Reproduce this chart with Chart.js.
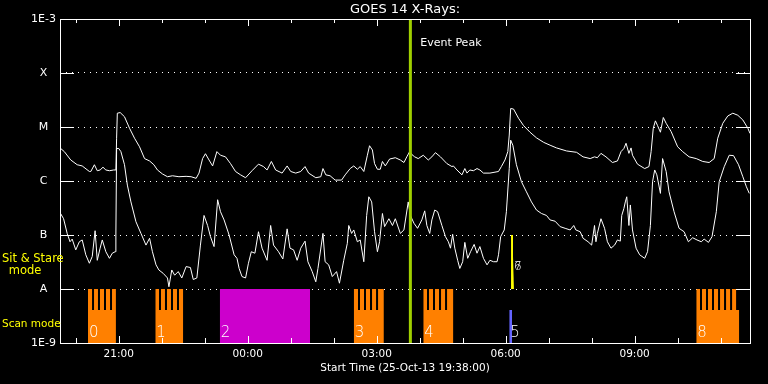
<!DOCTYPE html>
<html>
<head>
<meta charset="utf-8">
<script src="https://cdn.jsdelivr.net/npm/chart.js@4.4.0/dist/chart.umd.min.js"></script>
<style>
  html, body { margin: 0; padding: 0; background: #000; }
  canvas { display: block; }
</style>
</head>
<body>
<canvas id="myChart" width="768" height="384"></canvas>
<script>
// times are minutes after 25-Oct-13 19:38:00, flux in W/m^2
const longTimes = [0, 6, 15, 24, 31, 41, 43, 48, 52, 56, 60, 64, 69, 75, 78, 79, 80, 84, 90, 97, 104, 111, 118, 125, 131, 136, 143, 150, 157, 166, 176, 183, 190, 194, 199, 203, 208, 213, 219, 224, 231, 238, 245, 252, 259, 268, 277, 284, 289, 295, 301, 310, 317, 322, 329, 336, 342, 347, 357, 364, 367, 371, 377, 384, 393, 398, 405, 410, 415, 419, 424, 429, 432, 436, 439, 443, 447, 450, 454, 460, 468, 475, 480, 484, 488, 491, 495, 500, 507, 514, 519, 524, 531, 540, 547, 549, 554, 561, 565, 568, 572, 577, 582, 586, 591, 600, 612, 616, 621, 625, 627, 629, 633, 640, 647, 656, 665, 675, 684, 693, 707, 721, 730, 740, 746, 750, 755, 762, 771, 778, 783, 787, 790, 794, 797, 799, 806, 816, 822, 825, 828, 831, 834, 838, 842, 846, 853, 862, 869, 878, 888, 897, 906, 913, 918, 925, 932, 939, 946, 953, 960, 963];
const longFlux = [4.1e-6, 3.5e-6, 2.45e-6, 2.0e-6, 1.9e-6, 1.5e-6, 1.5e-6, 2.0e-6, 1.55e-6, 1.6e-6, 1.8e-6, 1.6e-6, 1.55e-6, 1.6e-6, 1.6e-6, 6.2e-6, 1.8e-5, 1.85e-5, 1.55e-5, 9.5e-6, 6.2e-6, 4.3e-6, 2.6e-6, 2.35e-6, 2.0e-6, 1.6e-6, 1.35e-6, 1.2e-6, 1.25e-6, 1.2e-6, 1.22e-6, 1.2e-6, 1.12e-6, 1.4e-6, 2.6e-6, 3.2e-6, 2.45e-6, 1.9e-6, 3.5e-6, 3.0e-6, 2.8e-6, 2.1e-6, 1.5e-6, 1.3e-6, 1.15e-6, 1.55e-6, 2.05e-6, 1.85e-6, 1.6e-6, 2.3e-6, 1.6e-6, 1.4e-6, 1.9e-6, 1.5e-6, 1.4e-6, 1.5e-6, 1.85e-6, 1.4e-6, 1.15e-6, 1.2e-6, 1.7e-6, 1.3e-6, 1.25e-6, 1.04e-6, 1.04e-6, 1.3e-6, 1.7e-6, 1.9e-6, 1.65e-6, 1.85e-6, 1.5e-6, 3.0e-6, 4.5e-6, 3.75e-6, 2.1e-6, 1.65e-6, 1.65e-6, 2.3e-6, 1.9e-6, 2.55e-6, 2.7e-6, 2.45e-6, 2.2e-6, 2.8e-6, 3.5e-6, 3.1e-6, 2.8e-6, 2.6e-6, 3.0e-6, 2.45e-6, 2.8e-6, 3.35e-6, 2.8e-6, 2.1e-6, 1.85e-6, 1.9e-6, 1.6e-6, 1.3e-6, 1.7e-6, 1.4e-6, 1.6e-6, 1.55e-6, 1.7e-6, 1.6e-6, 1.4e-6, 1.4e-6, 1.5e-6, 1.85e-6, 2.45e-6, 3.5e-6, 7.1e-6, 2.2e-5, 2.15e-5, 1.45e-5, 1.06e-5, 8.0e-6, 6.3e-6, 5.2e-6, 4.6e-6, 4.1e-6, 3.6e-6, 3.4e-6, 2.8e-6, 2.6e-6, 2.8e-6, 2.7e-6, 3.25e-6, 2.8e-6, 2.2e-6, 2.35e-6, 3.5e-6, 4.0e-6, 5.0e-6, 3.25e-6, 4.1e-6, 3.0e-6, 2.05e-6, 1.7e-6, 1.85e-6, 3.5e-6, 9.5e-6, 1.3e-5, 1.06e-5, 8.0e-6, 1.5e-5, 1.17e-5, 8.2e-6, 4.3e-6, 3.5e-6, 2.8e-6, 2.6e-6, 2.3e-6, 2.2e-6, 2.6e-6, 6.2e-6, 1.17e-5, 1.6e-5, 1.8e-5, 1.65e-5, 1.35e-5, 9.5e-6, 7.6e-6];

const shortTimes = [0, 5, 10, 14, 17, 22, 27, 31, 36, 41, 45, 49, 52, 56, 59, 64, 69, 73, 77, 78, 79, 82, 85, 90, 94, 99, 106, 113, 120, 125, 129, 134, 138, 144, 150, 152, 156, 160, 165, 170, 176, 182, 186, 191, 196, 201, 206, 210, 215, 220, 224, 229, 236, 243, 247, 250, 254, 259, 263, 267, 272, 277, 282, 289, 294, 298, 305, 311, 317, 321, 326, 331, 336, 342, 346, 352, 357, 360, 367, 370, 375, 380, 386, 390, 396, 401, 403, 407, 410, 415, 419, 424, 428, 431, 435, 439, 443, 446, 450, 453, 459, 464, 468, 475, 480, 486, 489, 494, 499, 505, 509, 512, 516, 519, 523, 527, 533, 538, 542, 545, 548, 551, 555, 558, 562, 565, 569, 573, 578, 582, 586, 591, 596, 600, 605, 610, 612, 615, 620, 623, 627, 629, 632, 637, 644, 651, 658, 665, 672, 679, 684, 691, 698, 705, 712, 717, 720, 726, 730, 737, 742, 746, 748, 750, 755, 760, 764, 769, 774, 778, 782, 784, 787, 789, 791, 794, 796, 799, 804, 809, 816, 820, 824, 827, 830, 833, 838, 841, 846, 850, 857, 864, 871, 877, 883, 889, 895, 899, 905, 910, 916, 920, 927, 934, 940, 947, 953, 958, 962];
const shortFlux = [2.6e-7, 2.0e-7, 1.07e-7, 7.5e-8, 8.4e-8, 5.3e-8, 7.5e-8, 8.1e-8, 4.3e-8, 3.0e-8, 4.0e-8, 1.2e-7, 3.4e-8, 5.7e-8, 8.1e-8, 4.9e-8, 3.7e-8, 4.6e-8, 4.9e-8, 1.0e-7, 4.0e-6, 4.0e-6, 3.5e-6, 2.0e-6, 8.4e-7, 4.1e-7, 1.76e-7, 1.07e-7, 6.5e-8, 8.7e-8, 4.9e-8, 2.8e-8, 2.25e-8, 1.95e-8, 1.6e-8, 1.1e-8, 2.25e-8, 1.8e-8, 2.1e-8, 1.6e-8, 2.6e-8, 2.5e-8, 1.5e-8, 1.6e-8, 6.5e-8, 2.3e-7, 1.5e-7, 9.3e-8, 6.1e-8, 4.5e-7, 2.7e-7, 1.9e-7, 1.0e-7, 4.3e-8, 3.7e-8, 2.4e-8, 1.7e-8, 1.6e-8, 3.0e-8, 4.9e-8, 4.6e-8, 1.15e-7, 5.7e-8, 3.4e-8, 1.5e-7, 6.5e-8, 4.9e-8, 3.6e-8, 1.3e-7, 5.7e-8, 5.3e-8, 3.4e-8, 5.7e-8, 7.7e-8, 3.2e-8, 2.1e-8, 1.36e-8, 2.4e-8, 1.07e-7, 3.2e-8, 2.8e-8, 1.7e-8, 2.1e-8, 1.28e-8, 3.4e-8, 7.0e-8, 1.5e-7, 1.07e-7, 1.24e-7, 7.5e-8, 8.1e-8, 3.2e-8, 2.3e-7, 5.1e-7, 4.1e-7, 1.15e-7, 4.9e-8, 7.5e-8, 2.5e-7, 1.43e-7, 2.0e-7, 1.5e-7, 2.0e-7, 1.07e-7, 1.24e-7, 4.1e-7, 2.3e-7, 1.65e-7, 1.33e-7, 1.9e-7, 2.8e-7, 1.5e-7, 1.07e-7, 1.9e-7, 2.9e-7, 2.7e-7, 1.5e-7, 9.3e-8, 7.5e-8, 5.7e-8, 1.03e-7, 5.7e-8, 3.4e-8, 2.4e-8, 3.2e-8, 7.3e-8, 3.7e-8, 4.9e-8, 6.7e-8, 4.6e-8, 6.1e-8, 3.7e-8, 2.8e-8, 3.4e-8, 3.2e-8, 3.2e-8, 4.3e-8, 9.3e-8, 1.24e-7, 2.7e-7, 1.7e-6, 5.7e-6, 4.6e-6, 2.0e-6, 9.7e-7, 6.3e-7, 4.1e-7, 2.9e-7, 2.5e-7, 2.3e-7, 1.9e-7, 1.8e-7, 1.43e-7, 1.33e-7, 1.24e-7, 1.5e-7, 1.24e-7, 1.15e-7, 8.7e-8, 7.5e-8, 6.5e-8, 1.5e-7, 7.5e-8, 1.07e-7, 2.0e-7, 1.33e-7, 7.5e-8, 5.7e-8, 6.5e-8, 8.1e-8, 7.7e-8, 2.3e-7, 3.1e-7, 4.1e-7, 5.1e-7, 1.5e-7, 3.6e-7, 1.24e-7, 5.7e-8, 4.3e-8, 3.7e-8, 4.9e-8, 1.5e-7, 9.7e-7, 1.6e-6, 1.3e-6, 5.9e-7, 2.6e-6, 1.5e-6, 6.3e-7, 2.7e-7, 1.33e-7, 1.15e-7, 7.5e-8, 8.9e-8, 8.1e-8, 7.5e-8, 8.4e-8, 7.3e-8, 9.3e-8, 2.7e-7, 9.7e-7, 1.84e-6, 3.0e-6, 2.95e-6, 2.0e-6, 1.2e-6, 7.8e-7, 5.9e-7];

const yTickValues = [1e-9, 1e-8, 1e-7, 1e-6, 1e-5, 1e-4, 1e-3];
const yTickLabels = ['1E-9', 'A', 'B', 'C', 'M', 'X', '1E-3'];
const xMajorTicks = [82, 262, 442, 622, 802];
const xTickLabels = ['21:00', '00:00', '03:00', '06:00', '09:00'];
const xMinorTicks = [22, 142, 202, 322, 382, 502, 562, 682, 742, 862, 922];
const eventPeak = 489;

// IRIS observations: scan mode blocks (band 1E-9 .. 1E-8)
const scanNames = ['0', '1', '2', '3', '4', '5', '8'];
const scanStart = [39, 133, 223, 410, 507, 627, 888];
const scanEnd = [78, 172, 349, 452, 549, 631, 948];
const scanTop = [1e-8, 1e-8, 1e-8, 1e-8, 1e-8, 4.1e-9, 1e-8];
const scanBase = [4.1e-9, 4.1e-9, 1e-8, 4.1e-9, 4.1e-9, 4.1e-9, 4.1e-9];
const scanGaps = [
    [[44.7, 47.5], [53.0, 55.8], [61.4, 64.2], [69.8, 72.6]],
    [[138.2, 141.0], [146.5, 149.3], [154.9, 157.7], [163.3, 166.1]],
    [],
    [[415.9, 418.7], [424.3, 427.1], [432.7, 435.5], [441.1, 443.9]],
    [[512.2, 515.0], [520.6, 523.4], [529.0, 531.8], [537.4, 540.2]],
    [],
    [[893.2, 896.0], [901.6, 904.4], [910.0, 912.8], [918.4, 921.2], [926.8, 929.6], [935.2, 938.0], [943.6, 948]]
];
// sit & stare blocks (band 1E-8 .. 1E-7)
const stareNames = ['6', '7'];
const stareStart = [629.5, 632.3];
const stareEnd = [632.3, 633.6];
const stareTop = [1e-7, 4.1e-8];

const scanColors = ['#ff8000', '#ff8000', '#cc00cc', '#ff8000', '#ff8000', '#6464ff', '#ff8000'];

function blockPoints(s, e, top, base, gaps) {
    let pts = [{x: s, y: top}];
    gaps.forEach(g => {
        pts.push({x: g[0], y: top}, {x: g[0], y: base}, {x: g[1], y: base}, {x: g[1], y: top});
    });
    pts.push({x: e, y: top});
    return pts;
}

let datasets = [
    {label: 'long', data: longTimes.map((t, i) => ({x: t, y: longFlux[i]})), borderColor: '#fff', borderWidth: 1, pointRadius: 0, tension: 0, fill: false},
    {label: 'short', data: shortTimes.map((t, i) => ({x: t, y: shortFlux[i]})), borderColor: '#fff', borderWidth: 1, pointRadius: 0, tension: 0, fill: false}
];
scanNames.forEach((n, i) => {
    datasets.push({
        label: 'scan ' + n,
        data: blockPoints(scanStart[i], scanEnd[i], scanTop[i], scanBase[i], scanGaps[i]),
        borderWidth: 0, borderColor: 'rgba(0,0,0,0)', pointRadius: 0, tension: 0,
        backgroundColor: scanColors[i], fill: {value: 1e-9}
    });
});
stareNames.forEach((n, i) => {
    datasets.push({
        label: 'stare ' + n,
        data: [{x: stareStart[i], y: stareTop[i]}, {x: stareEnd[i], y: stareTop[i]}],
        borderWidth: 0, borderColor: 'rgba(0,0,0,0)', pointRadius: 0, tension: 0,
        backgroundColor: '#ffff00', fill: {value: 1e-8}
    });
});

const FONT = '"DejaVu Sans", sans-serif';

const overlay = {
    id: 'overlay',
    beforeDraw(chart) {
        const ctx = chart.ctx;
        ctx.save();
        ctx.fillStyle = '#000';
        ctx.fillRect(0, 0, chart.width, chart.height);
        ctx.restore();
    },
    afterDatasetsDraw(chart) {
        const {ctx, chartArea: a, scales: {x, y}} = chart;
        ctx.save();
        // event peak
        let ex = x.getPixelForValue(eventPeak);
        ctx.strokeStyle = '#a0d000';
        ctx.lineWidth = 3;
        ctx.beginPath();
        ctx.moveTo(ex, a.top);
        ctx.lineTo(ex, a.bottom);
        ctx.stroke();

        ctx.strokeStyle = '#fff';
        ctx.lineWidth = 1;
        ctx.strokeRect(Math.round(a.left) + 0.5, Math.round(a.top) + 0.5, Math.round(a.right - a.left), Math.round(a.bottom - a.top));
        ctx.beginPath();
        yTickValues.slice(1, -1).forEach(v => {
            let py = Math.round(y.getPixelForValue(v)) + 0.5;
            ctx.moveTo(a.left, py); ctx.lineTo(a.left + 14, py);
            ctx.moveTo(a.right - 14, py); ctx.lineTo(a.right, py);
        });
        xMajorTicks.forEach(v => {
            let px = Math.round(x.getPixelForValue(v)) + 0.5;
            ctx.moveTo(px, a.bottom); ctx.lineTo(px, a.bottom - 7);
            ctx.moveTo(px, a.top); ctx.lineTo(px, a.top + 7);
        });
        xMinorTicks.forEach(v => {
            let px = Math.round(x.getPixelForValue(v)) + 0.5;
            ctx.moveTo(px, a.bottom); ctx.lineTo(px, a.bottom - 5);
            ctx.moveTo(px, a.top); ctx.lineTo(px, a.top + 4);
        });
        ctx.stroke();

        ctx.fillStyle = '#fff';
        ctx.textBaseline = 'middle';
        ctx.textAlign = 'left';
        ctx.font = '11px ' + FONT;
        ctx.fillText('Event Peak', ex + 10, 43);

        ctx.font = '200 15px ' + FONT;
        scanNames.forEach((n, i) => {
            ctx.fillText(n, x.getPixelForValue(scanStart[i]) + 1, 333);
        });
        ctx.font = '200 12px ' + FONT;
        stareNames.forEach(n => {
            ctx.fillText(n, x.getPixelForValue(stareStart[1]) + 1, 267);
        });

        ctx.fillStyle = '#ffff00';
        ctx.font = '11.5px ' + FONT;
        ctx.fillText('Sit & Stare', 2, 259);
        ctx.textAlign = 'center';
        ctx.fillText('mode', 25, 271);
        ctx.textAlign = 'left';
        ctx.font = '10.5px ' + FONT;
        ctx.fillText('Scan mode', 2, 324);
        ctx.restore();
    }
};

Chart.defaults.font.family = FONT;
Chart.defaults.color = '#fff';

new Chart('myChart', {
    type: 'line',
    data: {datasets: datasets},
    options: {
        responsive: false,
        animation: false,
        events: [],
        layout: {padding: {left: 0, right: 18, top: 0, bottom: 0}},
        plugins: {
            legend: {display: false},
            tooltip: {enabled: false},
            title: {
                display: true, text: 'GOES 14 X-Rays:', color: '#fff', fullSize: false,
                font: {size: 13, weight: 'normal'}, padding: {top: 1.7, bottom: 1.7}
            }
        },
        scales: {
            x: {
                type: 'linear', min: 0, max: 963,
                grid: {display: false, drawTicks: false},
                border: {display: false},
                afterBuildTicks: s => { s.ticks = xMajorTicks.map(v => ({value: v})); },
                afterFit: s => { s.height = 41; },
                ticks: {autoSkip: false, maxRotation: 0, padding: 5, color: '#fff', font: {size: 10.5}, callback: (v, i) => xTickLabels[i]},
                title: {display: true, text: 'Start Time (25-Oct-13 19:38:00)', color: '#fff', font: {size: 10.5}, padding: {top: 0, bottom: 9}}
            },
            y: {
                type: 'logarithmic', min: 1e-9, max: 1e-3,
                afterBuildTicks: s => { s.ticks = yTickValues.map(v => ({value: v})); },
                afterFit: s => { s.width = 60; },
                grid: {color: '#fff', lineWidth: 1, drawTicks: false},
                border: {display: false, dash: [1, 5]},
                ticks: {crossAlign: 'center', padding: 4, color: '#fff', font: {size: 11}, callback: (v, i) => yTickLabels[i]}
            }
        }
    },
    plugins: [overlay]
});
</script>
</body>
</html>
